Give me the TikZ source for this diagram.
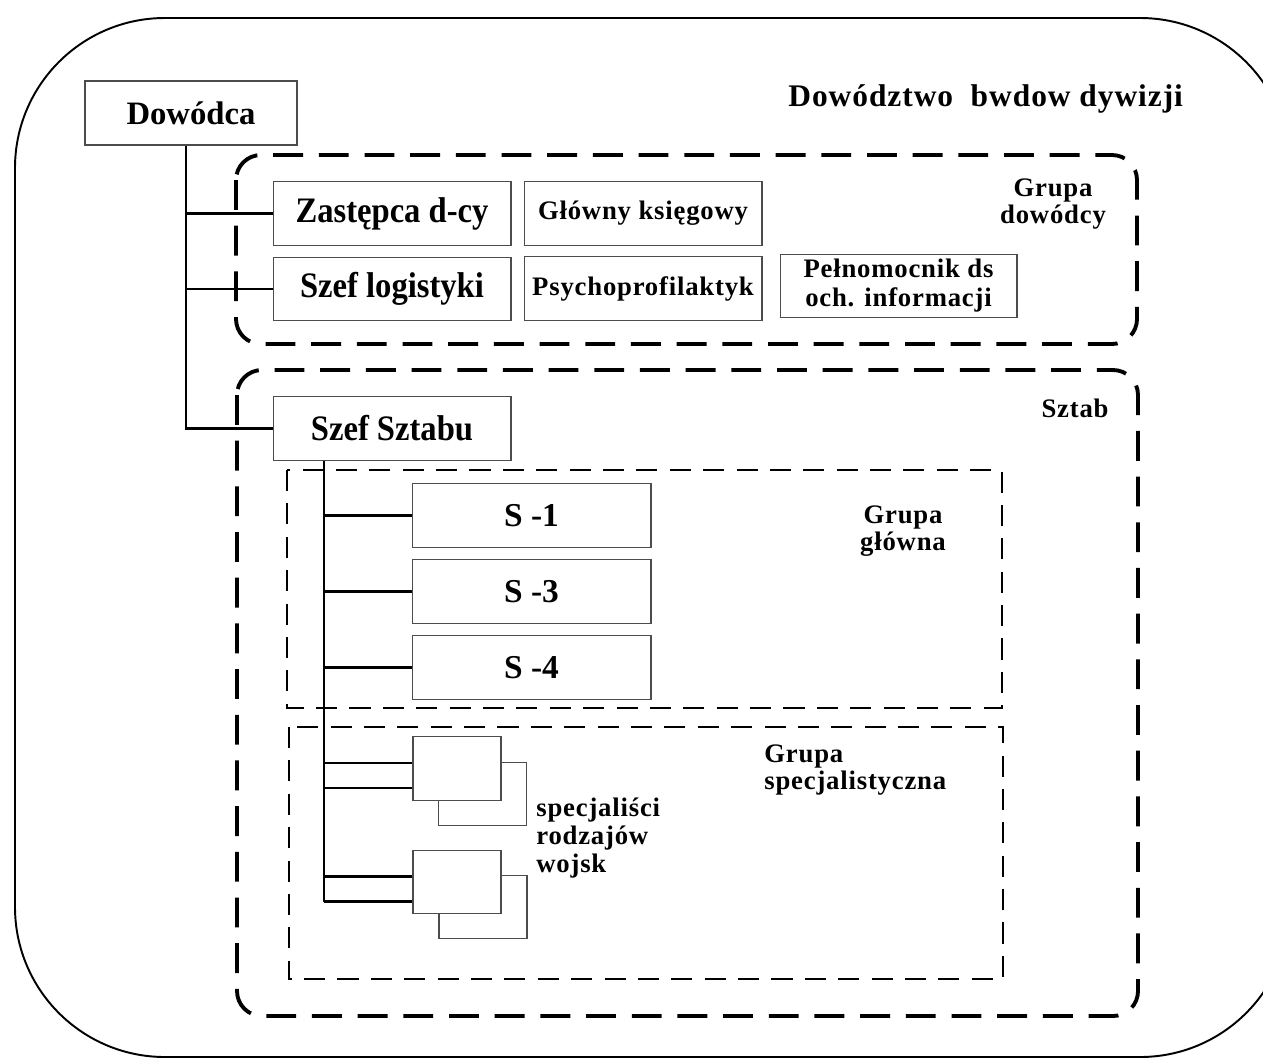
\documentclass[tikz,border=0pt]{standalone}
\usepackage{fontspec}
\setmainfont{Liberation Serif}
\newfontfamily\tallfont{Liberation Serif}[FakeStretch=0.91]
\newfontfamily\spacedfont{Liberation Serif}[LetterSpace=3]
\newfontfamily\titlefont{Liberation Serif}[LetterSpace=3]

\begin{document}
\begin{tikzpicture}[x=0.02cm, y=-0.02cm,
unitbox/.style={rectangle, draw=black!70, line width=0.6pt, fill=white, inner sep=0pt, minimum width=4.76cm, minimum height=1.27cm, align=center, font=\spacedfont\bfseries\fontsize{15.2}{16.5}\selectfont},
bigbox/.style={unitbox, font=\tallfont\bfseries\fontsize{20.4}{21}\selectfont},
sbox/.style={unitbox, font=\bfseries\fontsize{19}{20}\selectfont},
smallbox/.style={rectangle, draw=black!70, line width=0.6pt, fill=white, minimum width=1.76cm, minimum height=1.27cm},
grouplabel/.style={inner sep=0pt, align=center, font=\spacedfont\bfseries\fontsize{15.2}{15.8}\selectfont},
groupframe/.style={line width=2.2pt, dash pattern=on 17pt off 9pt, rounded corners=0.5cm},
subframe/.style={line width=1.3pt, dash pattern=on 12pt off 7pt},
conn/.style={line width=1.5pt}
]
\useasboundingbox (0,0) rectangle (1263,1059);

%Frames
\draw[line width=1.1pt, rounded corners=3cm] (15,18) rectangle (1290,1057);
\draw[groupframe] (236,155) rectangle (1137,344);
\draw[groupframe] (237,370) rectangle (1138,1016);
\draw[subframe] (287,470) rectangle (1002,708);
\draw[subframe] (289,727) rectangle (1003,979);

%Nodes
\node[sbox, font=\bfseries\fontsize{18.6}{19}\selectfont, minimum width=4.24cm, minimum height=1.28cm] at (191,113) (dowodca) {Dowódca};
\node[bigbox] at (392,213.5) (zastepca) {Zastępca d-cy};
\node[unitbox] at (643,213.5) (glowny) {Główny księgowy};
\node[bigbox] at (392,289) (szeflog) {Szef logistyki};
\node[unitbox] at (643,288.5) (psycho) {Psychoprofilaktyk};
\node[unitbox, minimum width=4.74cm] at (898.5,286) (pelnom) {Pełnomocnik ds\\och. informacji};
\node[bigbox] at (392,428.5) (szefsztabu) {Szef Sztabu};

\node[sbox, minimum width=4.78cm] at (531.5,515.5) (s1) {S -1};
\node[sbox, minimum width=4.78cm] at (531.5,591.5) (s3) {S -3};
\node[sbox, minimum width=4.78cm] at (531.5,667.5) (s4) {S -4};

\node[smallbox] at (482.5,794) (spec1b) {};
\node[smallbox] at (457,768.5) (spec1a) {};
\node[smallbox] at (483,907) (spec2b) {};
\node[smallbox] at (457,882) (spec2a) {};

%Labels
\node[grouplabel, anchor=base west, font=\titlefont\bfseries\fontsize{17.9}{19}\selectfont] at (788,106) (title) {Dowództwo~ bwdow dywizji};
\node[grouplabel] at (1053,204) (gdlabel) {Grupa\\dowódcy};
\node[grouplabel] at (1075,408) (sztablabel) {Sztab};
\node[grouplabel] at (903,531) (gglabel) {Grupa\\główna};
\node[grouplabel, anchor=west, align=left] at (764,770) (gslabel) {Grupa\\specjalistyczna};
\node[grouplabel, anchor=west, align=left] at (536,838) (speclabel) {specjaliści\\rodzajów\\wojsk};

%Lines
\coordinate (dtrunk) at ([xshift=-0.1cm]dowodca.south);
\draw[conn] (dtrunk) |- (szefsztabu.west);
\draw[conn] (dtrunk |- zastepca.west) -- (zastepca.west);
\draw[conn] (dtrunk |- szeflog.west) -- (szeflog.west);

\coordinate (sztrunk) at ([xshift=-1.36cm]szefsztabu.south);
\foreach \n in {s1,s3,s4}
  \draw[conn] (sztrunk |- \n.west) -- (\n.west);
\foreach \b in {spec1a,spec2a} {
  \coordinate (\b-hi) at ([yshift=0.11cm]\b.west);
  \coordinate (\b-lo) at ([yshift=-0.39cm]\b.west);
  \draw[conn] (sztrunk |- \b-hi) -- (\b-hi);
  \draw[conn] (sztrunk |- \b-lo) -- (\b-lo);
}
\draw[conn] (sztrunk) -- (sztrunk |- spec2a-lo);

\end{tikzpicture}
\end{document}
